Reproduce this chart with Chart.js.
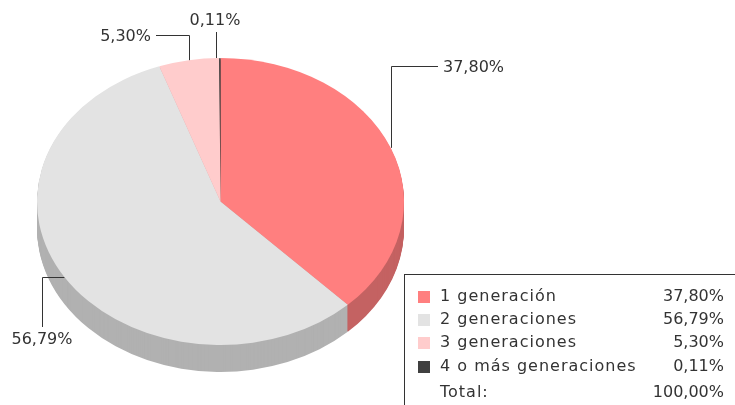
<!DOCTYPE html>
<html>
<head>
<meta charset="utf-8">
<script src="https://cdn.jsdelivr.net/npm/chart.js@4/dist/chart.umd.min.js"></script>
<style>
    html, body { margin: 0; padding: 0; background: #fff; }
    #wrap { position: relative; width: 735px; height: 405px; }
</style>
</head>
<body>
<div id="wrap"><canvas id="pie-chart" width="735" height="405"></canvas></div>
<script>
const categories = ['1 generación', '2 generaciones', '3 generaciones', '4 o más generaciones'];
const values = [37.80, 56.79, 5.30, 0.11];
const totalLabel = 'Total:';
const totalValue = 100.00;

const topColors = ['#ff7f7f', '#e3e3e3', '#ffcccc', '#404040'];
const sideColors = ['#c46262', '#b1b1b1', '#d4a8a8', '#2e2e2e'];

const fmt = v => v.toFixed(2).replace('.', ',') + '%';

// tilt and thickness of the pie
const tilt = 0.782;
const depth = 27;
const font = '16px "DejaVu Sans"';
const textColor = '#333333';

// where each leader line goes from its slice
const labelLayout = [
    { kind: 'upRight', lineY: 66, endX: 438, textX: 443, textY: 68 },
    { kind: 'leftDown', lineX: 42, endY: 327, textX: 42, textY: 340 },
    { kind: 'upLeft', lineY: 35, endX: 156, textX: 151, textY: 37 },
    { kind: 'up', lineX: 216, endY: 32, textX: 215, textY: 21 }
];

const ellipse = (ctx, arc) => {
    ctx.translate(arc.x, arc.y);
    ctx.scale(1, tilt);
    ctx.translate(-arc.x, -arc.y);
};

const pie3d = {
    id: 'pie3d',
    beforeDatasetsDraw(chart) {
        const ctx = chart.ctx;
        const arcs = chart.getDatasetMeta(0).data;
        for (let d = depth; d >= 1; d -= 1) {
            ctx.save();
            ctx.translate(0, d);
            ellipse(ctx, arcs[0]);
            arcs.forEach((arc, i) => {
                const copy = Object.create(arc);
                copy.options = Object.assign({}, arc.options, { backgroundColor: sideColors[i], borderWidth: 0 });
                arc.draw.call(copy, ctx);
            });
            ctx.restore();
        }
        ctx.save();
        ellipse(ctx, arcs[0]);
    },
    afterDatasetsDraw(chart) {
        chart.ctx.restore();
    },
    afterDraw(chart) {
        const ctx = chart.ctx;
        const arcs = chart.getDatasetMeta(0).data;
        ctx.save();
        ctx.font = font;
        ctx.fillStyle = textColor;
        ctx.strokeStyle = '#333333';
        ctx.lineWidth = 1;
        ctx.textBaseline = 'middle';

        // leader lines and labels
        arcs.forEach((arc, i) => {
            const a = (arc.startAngle + arc.endAngle) / 2;
            const ax = arc.x + arc.outerRadius * Math.cos(a);
            const ay = arc.y + arc.outerRadius * tilt * Math.sin(a);
            const l = labelLayout[i];
            ctx.beginPath();
            if (l.kind === 'upRight' || l.kind === 'upLeft') {
                ctx.moveTo(Math.round(ax) + 0.5, ay);
                ctx.lineTo(Math.round(ax) + 0.5, l.lineY + 0.5);
                ctx.lineTo(l.endX, l.lineY + 0.5);
                ctx.textAlign = l.kind === 'upRight' ? 'left' : 'right';
            } else if (l.kind === 'leftDown') {
                ctx.moveTo(ax, Math.round(ay) + 0.5);
                ctx.lineTo(l.lineX + 0.5, Math.round(ay) + 0.5);
                ctx.lineTo(l.lineX + 0.5, l.endY);
                ctx.textAlign = 'center';
            } else {
                ctx.moveTo(l.lineX + 0.5, ay);
                ctx.lineTo(l.lineX + 0.5, l.endY);
                ctx.textAlign = 'center';
            }
            ctx.stroke();
            ctx.fillText(fmt(values[i]), l.textX, l.textY);
        });

        // legend box
        const bx = 404, by = 274;
        ctx.fillStyle = '#ffffff';
        ctx.fillRect(bx, by, chart.width - bx + 5, chart.height - by + 5);
        ctx.strokeRect(bx + 0.5, by + 0.5, chart.width, chart.height);
        const rowY = [297, 320, 343, 367];
        categories.forEach((c, i) => {
            ctx.fillStyle = topColors[i];
            ctx.fillRect(418, rowY[i] - 6, 12, 12);
            ctx.fillStyle = textColor;
            ctx.textAlign = 'left';
            ctx.letterSpacing = '1px';
            ctx.fillText(c, 440, rowY[i]);
            ctx.letterSpacing = '0px';
            ctx.textAlign = 'right';
            ctx.fillText(fmt(values[i]), 724, rowY[i]);
        });
        ctx.textAlign = 'left';
        ctx.letterSpacing = '1px';
        ctx.fillText(totalLabel, 440, 393);
        ctx.letterSpacing = '0px';
        ctx.textAlign = 'right';
        ctx.fillText(fmt(totalValue), 724, 393);
        ctx.restore();
    }
};

new Chart(document.getElementById('pie-chart').getContext('2d'), {
    type: 'pie',
    data: {
        labels: categories,
        datasets: [{
            data: values,
            backgroundColor: topColors,
            borderWidth: 0,
            clip: false
        }]
    },
    options: {
        responsive: false,
        animation: false,
        events: [],
        layout: { padding: { left: 37, right: 331, top: 18, bottom: 20 } },
        plugins: {
            legend: { display: false },
            tooltip: { enabled: false }
        }
    },
    plugins: [pie3d]
});
</script>
</body>
</html>
